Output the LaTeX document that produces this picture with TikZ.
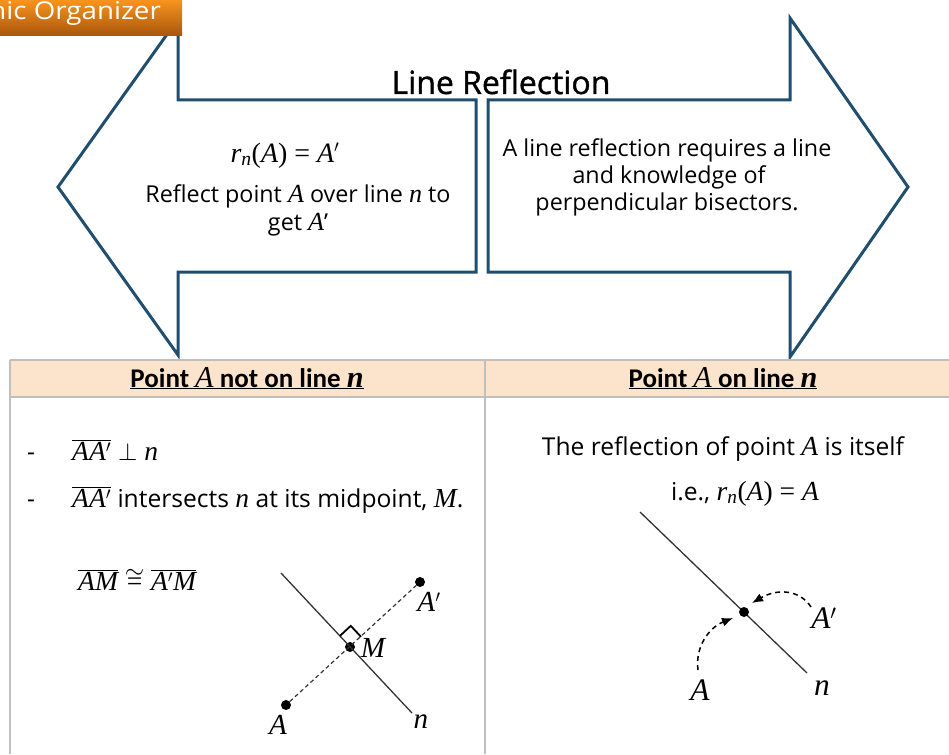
\documentclass[tikz,border=0pt]{standalone}
\usepackage[no-math]{fontspec}
\setmainfont{Open Sans}
\newfontfamily\headfont{Carlito}
\newfontfamily\titlefont{Open Sans}[FakeBold=1.2]
\newfontfamily\tabfont{Open Sans}[FakeStretch=1.13]
\newfontfamily\mathletters{Liberation Serif}[NFSSFamily=libser,Scale=1.12]
\DeclareSymbolFont{mlet}{TU}{libser}{m}{it}
\DeclareSymbolFont{mupr}{TU}{libser}{m}{n}
\DeclareMathSymbol{A}{\mathalpha}{mlet}{`A}
\DeclareMathSymbol{M}{\mathalpha}{mlet}{`M}
\DeclareMathSymbol{n}{\mathalpha}{mlet}{`n}
\DeclareMathSymbol{r}{\mathalpha}{mlet}{`r}
\DeclareMathSymbol{(}{\mathopen}{mupr}{`(}
\DeclareMathSymbol{)}{\mathclose}{mupr}{`)}
\DeclareMathSymbol{=}{\mathrel}{mupr}{`=}
\usetikzlibrary{arrows.meta,calc}
\definecolor{arrowblue}{HTML}{1F4E6E}
\definecolor{peach}{HTML}{FCE4CC}
\definecolor{gridgray}{HTML}{BFBFBF}
\definecolor{orangetop}{HTML}{F7941D}
\definecolor{orangebot}{HTML}{A9560C}
\definecolor{linegray}{HTML}{333333}
\tikzset{
  arrowshape/.style={draw=arrowblue, line width=3pt, fill=white, line join=miter},
  gridline/.style={draw=gridgray, line width=1.2pt},
  txt/.style={anchor=base, inner sep=0pt, font=\fontsize{23.3}{26}\selectfont},
  bodytxt/.style={anchor=base, inner sep=0pt, font=\fontsize{24.6}{28}\selectfont},
  headtxt/.style={anchor=base, inner sep=0pt, font=\headfont\bfseries\fontsize{27}{30}\selectfont},
  lbl/.style={inner sep=0pt, font=\fontsize{26}{30}\selectfont},
  dot/.style={circle, fill=black, inner sep=0pt, minimum size=10pt},
  nline/.style={draw=linegray, line width=1.3pt},
  dashline/.style={draw=linegray, line width=1.2pt, dash pattern=on 4pt off 3pt},
  curvearrow/.style={draw=black, line width=1.5pt, dash pattern=on 5pt off 4pt, -{Latex[length=11pt,width=9pt]}}
}
\begin{document}
\begin{tikzpicture}[x=1pt,y=-1pt]
\useasboundingbox (0,0) rectangle (949,754);

% arrows
\path[arrowshape] (58,187) -- (178,19) -- (178,100) -- (476,100) -- (476,272) -- (178,272) -- (178,355) -- cycle;
\path[arrowshape] (488,100) -- (790,100) -- (790,18) -- (908,187) -- (790,357) -- (790,272) -- (488,272) -- cycle;

% tab
\shade[top color=orangetop, bottom color=orangebot] (0,0) rectangle (182,36);
\begin{scope}
\clip (0,0) rectangle (182,36);
\node[anchor=base east, inner sep=0pt, text=white, font=\tabfont\fontsize{24.5}{28}\selectfont] (tab) at (161,20) {Graphic Organizer};
\end{scope}

% title
\node[anchor=base, inner sep=0pt, font=\titlefont\fontsize{32}{36}\selectfont] (title) at (501,94) {Line Reflection};

% left arrow text
\node[txt, font=\fontsize{25}{30}\selectfont] (lb1) at (285,162) {$r_n(A) = A'$};
\node[txt] (lb2) at (298,202) {Reflect point $A$ over line $n$ to};
\node[txt] (lb3) at (298,230) {get $A$'};

% right arrow text
\node[txt] (rb1) at (667,157) {A line reflection requires a line};
\node[txt] (rb2) at (669,183) {and knowledge of};
\node[txt] (rb3) at (667,210) {perpendicular bisectors.};

% table
\fill[peach] (10,360) rectangle (949,397);
\draw[gridline] (10,360) -- (949,360);
\draw[gridline] (10,397) -- (949,397);
\draw[gridline] (10,360) -- (10,754);
\draw[gridline] (485,360) -- (485,754);

\node[headtxt] (h1) at (247,387) {\underline{Point $A$ not on line {\mathletters\bfseries\itshape n}}};
\node[headtxt] (h2) at (723,387) {\underline{Point $A$ on line {\mathletters\bfseries\itshape n}}};

% left body
\node[bodytxt] (d1) at (31,460) {-};
\node[bodytxt, anchor=base west] (i1) at (72,460) {$\overline{AA'} \perp n$};
\node[bodytxt] (d2) at (31,507) {-};
\node[bodytxt, anchor=base west] (i2) at (72,507) {$\overline{AA'}$ intersects $n$ at its midpoint, $M$.};
\node[bodytxt, anchor=base west] (cong) at (78,590) {$\overline{AM} \cong \overline{A'M}$};

% left diagram
\coordinate (n1) at (281,573);
\coordinate (n2) at (412,713);
\node[dot] (A) at (286,705) {};
\node[dot] (Ap) at (420,582) {};
\node[dot] (M) at (350,647) {};
\draw[nline] (n1) -- (n2);
\draw[dashline] (A) -- (Ap);
\coordinate (s1) at ($(M)!15pt!(n1)$);
\coordinate (s3) at ($(M)!15pt!(Ap)$);
\coordinate (s2) at ($(s1)+(s3)-(M)$);
\draw[line width=1.8pt, line join=miter] (s1) -- (s2) -- (s3);
\node[lbl] (Aplab) at (429,602) {$A'$};
\node[lbl] (Mlab) at (373,648) {$M$};
\node[lbl] (Alab) at (278,725) {$A$};
\node[lbl] (nlab) at (421,722) {$n$};

% right body
\node[bodytxt] (rt1) at (723,455) {The reflection of point $A$ is itself};
\node[bodytxt] (rt2) at (745,500) {i.e., $r_n(A) = A$};

% right diagram
\coordinate (m1) at (640,512);
\coordinate (m2) at (807,673);
\draw[nline] (m1) -- (m2);
\node[dot] (P) at (744,612) {};
\node[lbl, font=\fontsize{28}{32}\selectfont] (RAp) at (824,618) {$A'$};
\node[lbl, font=\fontsize{28}{32}\selectfont] (RA) at (700,690) {$A$};
\node[lbl, font=\fontsize{28}{32}\selectfont] (Rn) at (822,688) {$n$};
\coordinate (c1s) at (698,670);
\coordinate (c1e) at (733,618);
\coordinate (c2s) at (811,607);
\coordinate (c2e) at (752,603);
\draw[curvearrow] (c1s) .. controls (695,648) and (708,628) .. (c1e);
\draw[curvearrow] (c2s) .. controls (800,590) and (778,588) .. (c2e);
\end{tikzpicture}
\end{document}
